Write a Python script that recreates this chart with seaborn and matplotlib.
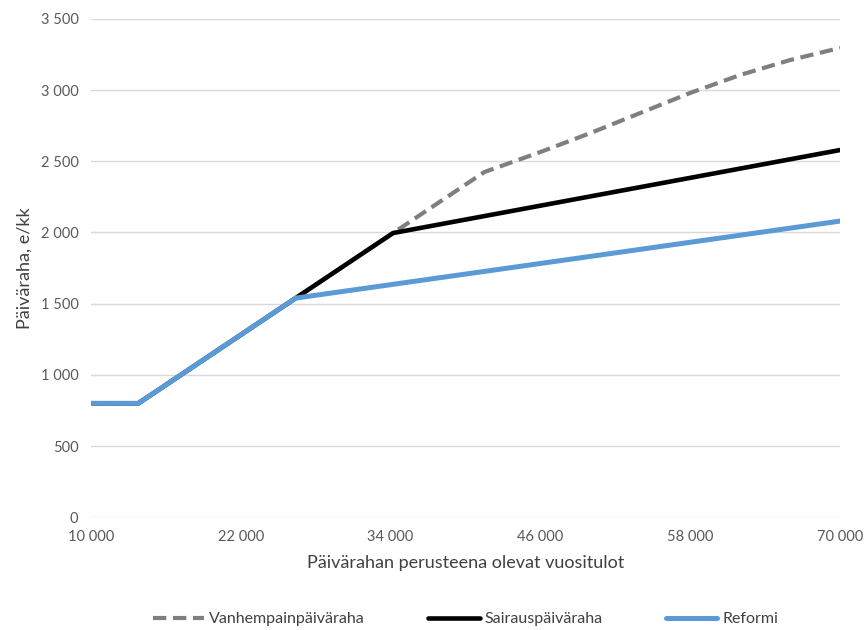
import numpy as np
import pandas as pd
import matplotlib.pyplot as plt
import seaborn as sns
from matplotlib.ticker import FuncFormatter

# Breakpoints (annual income -> e/month)
reformi_x = [10000, 13800, 26400, 70000]
reformi_y = [800, 800, 1539, 2080]

sairaus_x = [10000, 13800, 26400, 34200, 70000]
sairaus_y = [800, 800, 1539, 1996, 2579]

vanhempain_x = [10000, 13800, 26400, 34200, 41500, 46000, 50000, 54000,
                58000, 62000, 66000, 70000]
vanhempain_y = [800, 800, 1539, 1996, 2424, 2565, 2698, 2839,
                2980, 3106, 3211, 3296]

x_ticks = [10000, 22000, 34000, 46000, 58000, 70000]
y_ticks = [0, 500, 1000, 1500, 2000, 2500, 3000, 3500]

sns.set_style("white")
plt.rcParams['font.family'] = ['Lato', 'DejaVu Sans']

fig = plt.figure(figsize=(8.66, 6.30), dpi=100)
ax = fig.add_axes([0.105, 0.179, 0.865, 0.791])

sns.lineplot(x=vanhempain_x, y=vanhempain_y, ax=ax, color='#7f7f7f',
             linewidth=3, linestyle=(0, (3.2, 1.6)), label='Vanhempainpäiväraha')
sns.lineplot(x=sairaus_x, y=sairaus_y, ax=ax, color='black',
             linewidth=3.3, label='Sairauspäiväraha')
sns.lineplot(x=reformi_x, y=reformi_y, ax=ax, color='#5b9bd5',
             linewidth=3.6, label='Reformi')

ax.set_xlim(10000, 70000)
ax.set_ylim(0, 3500)
ax.set_xticks(x_ticks)
ax.set_yticks(y_ticks)

fmt = FuncFormatter(lambda v, p: f"{int(v):,}".replace(",", " "))
ax.xaxis.set_major_formatter(fmt)
ax.yaxis.set_major_formatter(fmt)

ax.grid(axis='y', color='#d9d9d9', linewidth=1)
ax.set_axisbelow(True)
for s in ax.spines.values():
    s.set_visible(False)
ax.tick_params(axis='both', length=0, labelsize=10.5, colors='#595959', pad=9)

ax.set_xlabel('Päivärahan perusteena olevat vuositulot', fontsize=13,
              color='#404040', labelpad=8)
ax.set_ylabel('Päiväraha, e/kk', fontsize=13, color='#404040', labelpad=6)

ax.legend(loc='center', bbox_to_anchor=(0.5, -0.205), ncol=3, frameon=False,
          fontsize=11.5, handlelength=3.2, columnspacing=4, handletextpad=0.3,
          labelcolor='#404040')

fig.savefig('out.png', dpi=100)
